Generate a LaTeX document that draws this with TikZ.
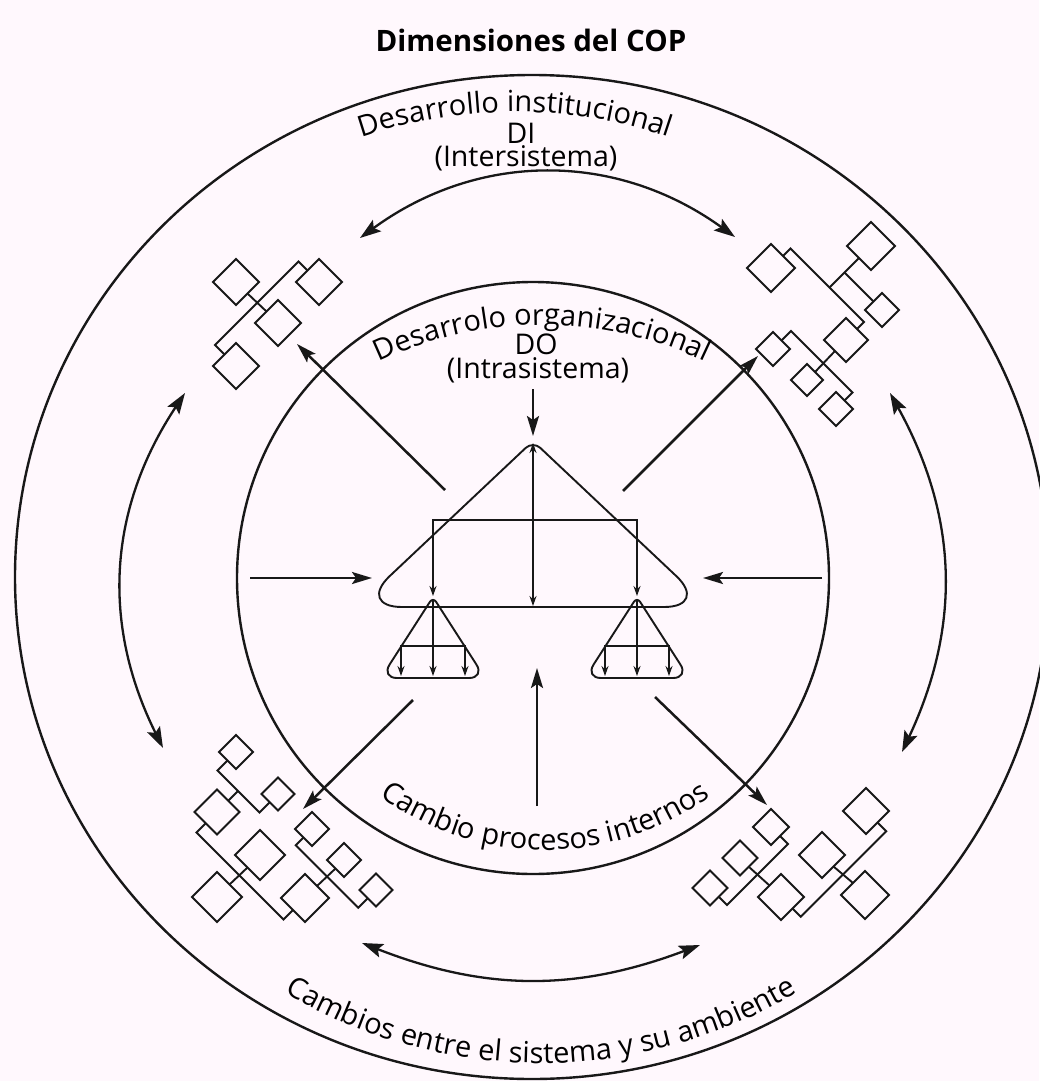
\documentclass[tikz,border=0pt]{standalone}
\usepackage{fontspec}
\setmainfont{Open Sans}
\usetikzlibrary{arrows.meta,shapes.geometric,decorations.text}
\definecolor{ink}{RGB}{24,24,24}
\definecolor{paper}{RGB}{255,248,253}
\newcommand{\labelfont}{\fontsize{28.5}{32}\selectfont}
\newcommand{\curvefont}{\fontsize{29}{32}\selectfont}

\begin{document}
\begin{tikzpicture}[x=1pt,y=-1pt,
  ring/.style={draw=ink,line width=2.4pt},
  ray/.style={draw=ink,line width=2.5pt,-{Stealth[length=20pt,width=12pt,inset=4pt]}},
  swing/.style={draw=ink,line width=2.3pt,{Stealth[length=21pt,width=14pt,inset=4pt]}-{Stealth[length=21pt,width=14pt,inset=4pt]}},
  orgbox/.style={diamond,draw=ink,line width=2pt,inner sep=0pt,outer sep=0pt,
                 minimum width=#1pt,minimum height=#1pt,shape aspect=1},
  link/.style={draw=ink,line width=1.9pt},
  shell/.style={draw=ink,line width=1.9pt},
  dart/.style={draw=ink,line width=1.5pt,-{Stealth[length=10pt,width=7pt]}},
  darts/.style={draw=ink,line width=1.5pt,{Stealth[length=10pt,width=7pt]}-{Stealth[length=10pt,width=7pt]}},
  lbl/.style={font=\labelfont,inner sep=0pt,anchor=base},
  arctext/.style={decorate,decoration={text along path,text align=center,text={|\curvefont|#1}}}
]
% sheet
\fill[paper] (0,0) rectangle (1039,1081);
\useasboundingbox (0,0) rectangle (1039,1081);

% the two systems
\draw[ring] (532,577) ellipse [x radius=517pt, y radius=502pt];
\draw[ring] (533,578) circle [radius=296pt];

% title and captions
\node[font=\fontsize{29.5}{32}\selectfont\bfseries,anchor=base,inner sep=0pt] (title) at (531,52) {Dimensiones del COP};
\path[arctext={Desarrollo institucional}] (99.31,352) arc[start angle=150,end angle=30,radius=480pt];
\node[lbl] (di) at (521,143) {DI};
\node[lbl] (inter) at (526,166) {(Intersistema)};
\path[arctext={Desarrolo organizacional}] (212.9,515) arc[start angle=150,end angle=30,radius=380pt];
\node[lbl] (do) at (536,354) {DO};
\node[lbl] (intra) at (538,378) {(Intrasistema)};
\path[arctext={Cambio procesos internos}] (280,664.45) arc[start angle=200,end angle=340,radius=282pt];
\path[arctext={Cambios entre el sistema y su ambiente}] (108,813) arc[start angle=210,end angle=330,radius=500pt];

% exchanges between the outer units
\coordinate (ta1) at (360,238);  \coordinate (ta2) at (735,237);
\coordinate (la1) at (185,393);  \coordinate (la2) at (163,748);
\coordinate (ra1) at (890,393);  \coordinate (ra2) at (902,752);
\coordinate (ba1) at (362,943);  \coordinate (ba2) at (700,945);
\draw[swing] (ta1) to[bend left=36] (ta2);
\draw[swing] (la1) to[bend right=30] (la2);
\draw[swing] (ra1) to[bend left=27] (ra2);
\draw[swing] (ba1) to[bend right=21] (ba2);

% ---- upper-left unit
\node[orgbox=46] (tl1) at (236,282) {};
\node[orgbox=46] (tl2) at (319,282) {};
\node[orgbox=46] (tl3) at (278,323) {};
\node[orgbox=46] (tl4) at (236,366) {};
\coordinate (tlc1) at (298.5,261.5);
\coordinate (tlc2) at (215,345);
\draw[link] (tl2.north west) -- (tlc1) -- (tlc2) -- (tl4.north west);
\draw[link] (tl1.south east) -- (tl3.north west);

% ---- upper-right unit
\node[orgbox=48] (tr1) at (871,246) {};
\node[orgbox=48] (tr2) at (771,268) {};
\node[orgbox=34] (tr3) at (882,310) {};
\node[orgbox=44] (tr4) at (846,340) {};
\node[orgbox=34] (tr5) at (773,349) {};
\node[orgbox=32] (tr6) at (807,380) {};
\node[orgbox=34] (tr7) at (836,409) {};
\coordinate (trc1) at (790.5,248.5);
\coordinate (trc2) at (864,322);
\coordinate (trc3) at (829.5,287.5);
\coordinate (trc4) at (844.5,272.5);
\coordinate (trc5) at (791,331);
\coordinate (trc6) at (852.5,392.5);
\draw[link] (tr2.north east) -- (trc1) -- (trc2) -- (tr4.north east);
\draw[link] (trc3) -- (tr1.south west);
\draw[link] (trc4) -- (tr3.north west);
\draw[link] (tr5.north east) -- (trc5) -- (trc6) -- (tr7.north east);
\draw[link] (tr4.south west) -- (tr6.north east);

% ---- lower-left unit
\node[orgbox=34] (bl1) at (236,752) {};
\node[orgbox=33] (bl2) at (278,794) {};
\node[orgbox=45] (bl3) at (217,812) {};
\node[orgbox=34] (bl4) at (312,829) {};
\node[orgbox=50] (bl5) at (260,855) {};
\node[orgbox=34] (bl6) at (344,860) {};
\node[orgbox=50] (bl7) at (217,897) {};
\node[orgbox=48] (bl8) at (305,898) {};
\node[orgbox=33] (bl9) at (376,890) {};
\coordinate (blc1) at (217.5,770.5);
\coordinate (blc2) at (259.5,812.5);
\coordinate (blc3) at (238,791);
\coordinate (blc4) at (196.5,832.5);
\coordinate (blc5) at (283.5,919.5);
\coordinate (blc6) at (295.75,845.25);
\coordinate (blc7) at (358.25,907.75);
\draw[link] (bl1.south west) -- (blc1) -- (blc2) -- (bl2.south west);
\draw[link] (bl3.north east) -- (blc3);
\draw[link] (bl3.south west) -- (blc4) -- (blc5) -- (bl8.south west);
\draw[link] (bl5.south west) -- (bl7.north east);
\draw[link] (bl4.south west) -- (blc6) -- (blc7) -- (bl9.south west);
\draw[link] (bl6.south west) -- (bl8.north east);

% ---- lower-right unit
\node[orgbox=36] (br1) at (771,827) {};
\node[orgbox=35] (br2) at (740,858) {};
\node[orgbox=35] (br3) at (710,888) {};
\node[orgbox=46] (br4) at (781,897) {};
\node[orgbox=46] (br5) at (822,855) {};
\node[orgbox=46] (br6) at (866,811) {};
\node[orgbox=48] (br7) at (865,895) {};
\coordinate (brc1) at (788,844);
\coordinate (brc2) at (727,905);
\coordinate (brc3) at (886.25,831.25);
\coordinate (brc4) at (800.75,916.75);
\draw[link] (br1.south east) -- (brc1) -- (brc2) -- (br3.south east);
\draw[link] (br2.south east) -- (br4.north west);
\draw[link] (br6.south east) -- (brc3) -- (brc4) -- (br4.south east);
\draw[link] (br5.south east) -- (br7.north west);

% ---- central organisation
\coordinate (apex) at (533,443);
\coordinate (basemid) at (533,606);
\coordinate (barl) at (433,520);
\coordinate (barr) at (637,520);
\coordinate (subl) at (433,596);
\coordinate (subr) at (637,596);
\draw[shell] (402,607) .. controls (377.1,607) and (371.6,593.2) .. (389.7,576.1)
  -- (525.7,447.9) .. controls (529.7,444.1) and (536.3,444.1) .. (540.3,447.9)
  -- (676.3,576.1) .. controls (694.4,593.2) and (688.9,607) .. (664,607) -- cycle;
\draw[darts] (apex) -- (basemid);
\draw[darts] (subl) -- (barl) -- (barr) -- (subr);
\foreach \dx/\nm in {0/sl,204/sr}{
  \begin{scope}[shift={(\dx,0)}]
    \draw[shell] (397,678) .. controls (388.2,678) and (384.8,671.9) .. (389.6,664.5)
      -- (429.8,602.0) .. controls (431.6,599.2) and (434.4,599.2) .. (436.2,602.0)
      -- (476.4,664.5) .. controls (481.2,671.9) and (477.8,678) .. (469,678) -- cycle;
    \coordinate (\nm top) at (433,600);
    \coordinate (\nm a) at (401,646);
    \coordinate (\nm b) at (465,646);
    \coordinate (\nm foot) at (433,676);
    \draw[darts] (401,676) -- (\nm a) -- (\nm b) -- (465,676);
    \draw[dart] (\nm top) -- (\nm foot);
  \end{scope}
}

% ---- radial influences
\coordinate (rt0) at (533,389);  \coordinate (rt1) at (533,436);
\coordinate (rl0) at (250,578);  \coordinate (rl1) at (372,578);
\coordinate (rr0) at (822,578);  \coordinate (rr1) at (703,578);
\coordinate (rb0) at (537,806);  \coordinate (rb1) at (537,668);
\coordinate (ul0) at (445,490);  \coordinate (ul1) at (297,344);
\coordinate (ur0) at (623,491);  \coordinate (ur1) at (758,356);
\coordinate (ll0) at (413,700);  \coordinate (ll1) at (303,809);
\coordinate (lr0) at (655,697);  \coordinate (lr1) at (767,805);
\foreach \a/\b in {rt0/rt1,rl0/rl1,rr0/rr1,rb0/rb1,ul0/ul1,ur0/ur1,ll0/ll1,lr0/lr1}
  \draw[ray] (\a) -- (\b);
\end{tikzpicture}
\end{document}
